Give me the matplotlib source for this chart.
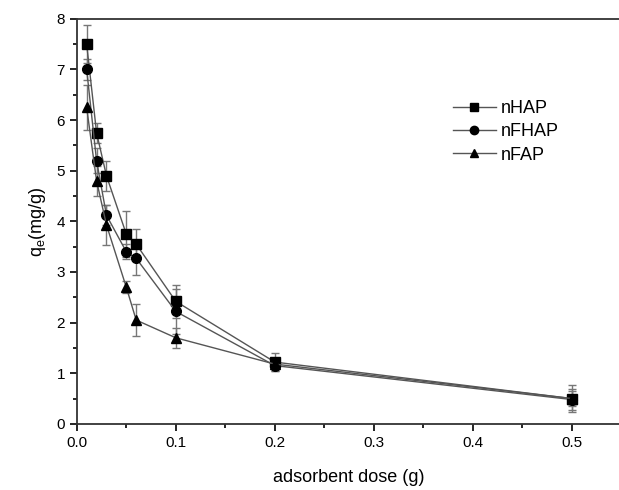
import numpy as np
import matplotlib.pyplot as plt
from matplotlib.lines import Line2D
from matplotlib.ticker import MultipleLocator

plt.rcParams['font.family'] = ['Liberation Sans', 'DejaVu Sans']

dose = [0.01, 0.02, 0.03, 0.05, 0.06, 0.1, 0.2, 0.5]

nHAP = [7.5, 5.75, 4.9, 3.75, 3.55, 2.42, 1.22, 0.5]
nHAP_err = [0.38, 0.2, 0.3, 0.45, 0.3, 0.33, 0.18, 0.27]

nFHAP = [7.0, 5.2, 4.12, 3.4, 3.27, 2.22, 1.15, 0.48]
nFHAP_err = [0.2, 0.25, 0.2, 0.15, 0.33, 0.45, 0.1, 0.2]

nFAP = [6.25, 4.8, 3.93, 2.7, 2.05, 1.7, 1.18, 0.5]
nFAP_err = [0.45, 0.3, 0.4, 0.12, 0.32, 0.2, 0.1, 0.15]

fig = plt.figure(figsize=(6.19, 4.9), dpi=100)
ax = fig.add_axes([0.124, 0.135, 0.88, 0.8265])

series = [(nHAP, nHAP_err, 's', 'nHAP'),
          (nFHAP, nFHAP_err, 'o', 'nFHAP'),
          (nFAP, nFAP_err, '^', 'nFAP')]
handles = []
for y, err, m, name in series:
    ax.errorbar(dose, y, yerr=err, fmt='-', marker=m, color='#555555', lw=1,
                mfc='black', mec='black', ms=7, ecolor='#777777', elinewidth=1,
                capsize=3, capthick=1)
    handles.append(Line2D([], [], color='#555555', lw=1, marker=m,
                          mfc='black', mec='black', ms=6, label=name))

ax.set_xlim(0, 0.55)
ax.set_ylim(0, 8)
ax.xaxis.set_major_locator(MultipleLocator(0.1))
ax.xaxis.set_minor_locator(MultipleLocator(0.05))
ax.yaxis.set_major_locator(MultipleLocator(1))
ax.yaxis.set_minor_locator(MultipleLocator(0.5))
ax.tick_params(which='both', direction='out', top=False, right=False, labelsize=11)
ax.tick_params(which='major', length=5, width=1.2)
ax.tick_params(which='minor', length=3, width=1.2)
for s in ax.spines.values():
    s.set_linewidth(1.3)
    s.set_color('#333333')
ax.spines['right'].set_visible(False)

ax.set_xlabel('adsorbent dose (g)', fontsize=13, labelpad=14)
ax.set_ylabel('q$_\\mathregular{e}$(mg/g)', fontsize=13, labelpad=6)

ax.legend(handles=handles, loc='upper left', bbox_to_anchor=(0.66, 0.84),
          frameon=False, fontsize=13, handlelength=2.4, handletextpad=0.3,
          labelspacing=0.35)

fig.savefig('out.png', dpi=100)
